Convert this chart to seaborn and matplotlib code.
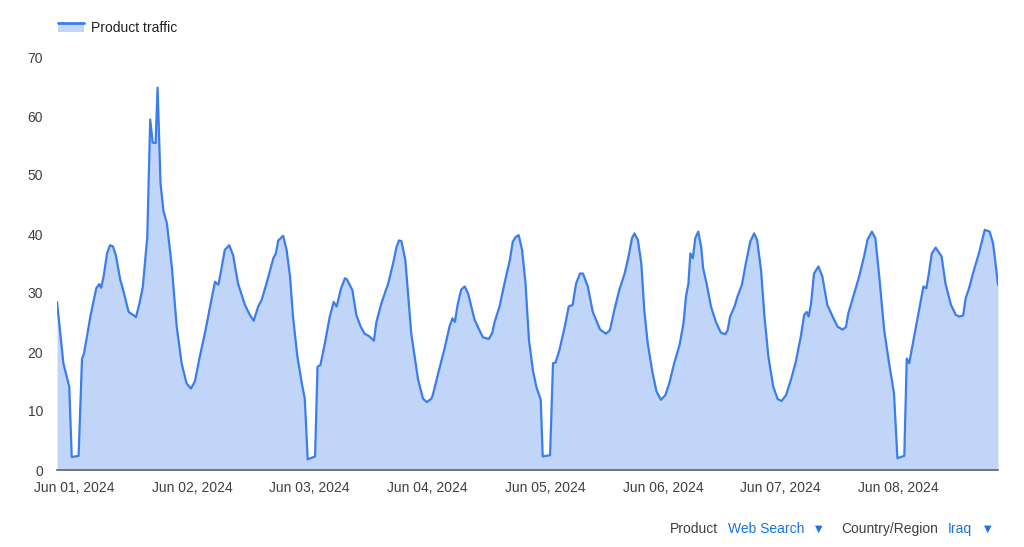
import numpy as np
import pandas as pd
import matplotlib
matplotlib.use('Agg')
import matplotlib.pyplot as plt
import matplotlib.dates as mdates
from matplotlib.patches import Patch, Rectangle
from matplotlib.lines import Line2D
from matplotlib.legend_handler import HandlerBase
import seaborn as sns

# hours since Jun 01 00:00 and traffic values (one list pair per day)
d1_hours = [-3.5, -2.2, -1.0, -0.5, 0.9, 1.6, 2.0, 3.3, 4.5, 5.1, 5.5, 6.0, 6.7, 7.3, 7.9, 8.5, 9.4, 9.9,
            11.1, 12.0, 12.6, 13.3, 14.0, 14.9, 15.5, 16.0, 16.6, 17.0, 17.6, 18.2, 18.9, 19.9, 20.9, 21.9, 22.9, 23.8]
d1_vals = [28.5, 18.1, 14.1, 2.2, 2.4, 18.9, 19.7, 26.0, 30.8, 31.5, 30.9, 32.8, 36.7, 38.1, 37.9, 36.4, 32.2, 30.8,
           26.8, 26.3, 25.9, 28.2, 31.1, 39.5, 59.4, 55.5, 55.4, 64.8, 48.6, 43.9, 41.8, 34.5, 24.3, 18.1, 14.7, 13.8]

d2_hours = [24.6, 25.6, 26.7, 27.7, 28.7, 29.4, 30.1, 30.7, 31.6, 32.4, 33.4, 34.8, 35.8, 36.6,
            37.5, 38.2, 39.2, 40.6, 41.1, 41.6, 42.6, 43.3, 44.0, 44.6, 45.5, 46.4, 47.0, 47.6]
d2_vals = [15.0, 19.2, 23.4, 27.7, 31.9, 31.4, 34.5, 37.3, 38.1, 36.4, 31.6, 28.0, 26.3, 25.3,
           27.7, 28.8, 31.6, 35.9, 36.7, 38.9, 39.7, 37.3, 32.8, 26.0, 19.2, 14.7, 12.1, 1.8]

d3_hours = [49.1, 49.6, 50.2, 51.1, 52.1, 52.9, 53.5, 54.4, 55.2, 55.6, 56.7, 57.5, 58.4, 59.2,
            60.1, 61.1, 61.6, 62.6, 64.0, 65.0, 65.7, 66.2, 66.7, 67.5, 68.7, 70.1, 71.1, 71.9]
d3_vals = [2.3, 17.5, 17.8, 21.5, 26.0, 28.5, 27.7, 30.8, 32.5, 32.3, 30.5, 26.3, 24.3, 23.1,
           22.7, 21.9, 25.1, 28.2, 31.6, 35.0, 37.8, 38.9, 38.8, 35.6, 23.2, 15.3, 12.1, 11.5]

d4_hours = [72.8, 73.1, 74.2, 75.5, 76.5, 77.1, 77.6, 78.2, 78.9, 79.6, 80.3, 81.6, 82.6, 83.3, 84.5,
            85.2, 85.7, 86.7, 87.7, 88.8, 89.4, 90.0, 90.6, 91.3, 92.0, 92.7, 93.5, 94.2, 95.1, 95.5]
d4_vals = [12.1, 12.7, 16.4, 20.6, 24.3, 25.7, 25.1, 28.2, 30.6, 31.1, 29.9, 25.5, 23.7, 22.5, 22.2,
           23.2, 25.1, 27.7, 31.6, 35.6, 38.7, 39.5, 39.8, 37.3, 31.6, 22.0, 16.9, 14.1, 11.9, 2.3]

d5_hours = [97.0, 97.6, 98.1, 98.9, 100.0, 100.8, 101.6, 102.3, 103.1, 103.7, 104.7, 105.7, 106.4, 107.2, 108.4,
            109.2, 110.1, 111.1, 112.2, 113.0, 113.7, 114.2, 114.9, 115.6, 116.2, 116.9, 117.9, 118.7, 119.6]
d5_vals = [2.5, 18.1, 18.2, 20.3, 24.3, 27.7, 28.0, 31.6, 33.3, 33.3, 31.1, 26.8, 25.4, 23.8, 23.1,
           23.7, 27.1, 30.5, 33.3, 36.2, 39.3, 40.1, 39.0, 35.0, 27.1, 21.5, 16.4, 13.3, 11.9]

d6_hours = [120.5, 121.3, 122.3, 123.4, 124.2, 124.7, 125.2, 125.6, 126.1, 126.6, 127.2, 127.8, 128.2, 128.9, 129.8, 130.8,
            131.8, 132.7, 133.2, 133.7, 134.6, 135.2, 136.1, 136.9, 137.8, 138.6, 139.2, 140.0, 140.7, 141.5, 142.5, 143.4]
d6_vals = [12.7, 14.7, 18.1, 21.2, 24.9, 29.4, 31.6, 36.7, 35.9, 39.3, 40.4, 37.8, 34.2, 31.6, 27.7, 25.1,
           23.3, 23.0, 23.7, 26.0, 27.7, 29.4, 31.4, 35.0, 38.7, 40.1, 39.0, 33.9, 26.0, 19.2, 14.1, 12.0]

d7_hours = [144.2, 145.1, 146.1, 147.1, 148.1, 148.8, 149.3, 149.7, 150.2, 150.8, 151.7, 152.5, 153.5, 154.6, 155.6,
            156.6, 157.3, 157.8, 158.6, 160.0, 161.0, 161.7, 162.6, 163.3, 164.1, 165.1, 166.1, 167.1, 167.8]
d7_vals = [11.7, 12.7, 15.3, 18.4, 22.6, 26.3, 26.8, 26.0, 28.2, 33.3, 34.5, 32.8, 28.0, 26.0, 24.3,
           23.8, 24.2, 26.6, 28.8, 32.8, 36.2, 39.0, 40.4, 39.3, 32.8, 23.7, 18.1, 13.0, 2.0]

d8_hours = [169.2, 169.7, 170.2, 171.2, 172.2, 173.1, 173.7, 174.2, 174.8, 175.6, 176.8, 177.6, 178.7,
            179.7, 180.4, 181.2, 181.7, 182.4, 183.4, 184.4, 185.6, 186.6, 187.3, 187.8, 188.3]
d8_vals = [2.4, 18.9, 18.1, 22.6, 27.1, 31.1, 30.8, 33.3, 36.7, 37.7, 36.2, 31.6, 28.0,
           26.3, 26.0, 26.2, 29.1, 30.8, 33.9, 36.7, 40.7, 40.4, 38.4, 35.0, 31.4]

hours = d1_hours + d2_hours + d3_hours + d4_hours + d5_hours + d6_hours + d7_hours + d8_hours
vals = d1_vals + d2_vals + d3_vals + d4_vals + d5_vals + d6_vals + d7_vals + d8_vals

start = pd.Timestamp('2024-06-01 00:00')
df = pd.DataFrame({'time': start + pd.to_timedelta(hours, unit='h'), 'traffic': vals})

sns.set_style('white')
plt.rcParams['font.family'] = ['Liberation Sans', 'DejaVu Sans']

line_c = '#3b7ded'
fill_c = '#c0d5f8'
blue = '#1a73e8'
grey = '#3c4043'


# legend key: light area with the blue line along its top
class AreaHandler(HandlerBase):
    def create_artists(self, legend, orig, xd, yd, w, h, fontsize, trans):
        r = Rectangle((xd, yd), w, h * 0.8, facecolor=fill_c, edgecolor='none', transform=trans)
        l = Line2D([xd, xd + w], [yd + h * 0.8] * 2, color=line_c, lw=2, transform=trans)
        return [r, l]


fig = plt.figure(figsize=(10.24, 5.47), dpi=100)
ax = fig.add_axes([57/1024, 1-470/547, 941/1024, 413/547])

ax.fill_between(df['time'], df['traffic'], 0, color=fill_c, lw=0)
sns.lineplot(data=df, x='time', y='traffic', ax=ax, color=line_c, lw=1.6, legend=False)

ax.set_xlim(df['time'].iloc[0], df['time'].iloc[-1])
ax.set_ylim(0, 70)
ax.set_yticks(range(0, 71, 10))
ax.xaxis.set_major_locator(mdates.DayLocator())
ax.xaxis.set_major_formatter(mdates.DateFormatter('%b %d, %Y'))
ax.tick_params(length=0, labelsize=10, colors=grey)
ax.tick_params(axis='y', pad=10)
ax.tick_params(axis='x', pad=8)
for s in ['top', 'right', 'left']:
    ax.spines[s].set_visible(False)
ax.spines['bottom'].set_color('#5f6368')
ax.spines['bottom'].set_linewidth(1.2)
ax.set_xlabel('')
ax.set_ylabel('')

key = Patch(facecolor=fill_c)
fig.legend(handles=[key], labels=['Product traffic'], loc='center left',
           bbox_to_anchor=(45/1024, 1-28/547), frameon=False, fontsize=10,
           handlelength=1.9, handleheight=0.8, handletextpad=0.5, labelcolor='#202124',
           handler_map={Patch: AreaHandler()})

yb = 1 - 529/547
fig.text(670/1024, yb, 'Product', fontsize=10, color=grey, va='center')
fig.text(728/1024, yb, 'Web Search', fontsize=10, color=blue, va='center')
fig.text(819/1024, yb, '▼', fontsize=7, color=blue, va='center', ha='center', family='DejaVu Sans')
fig.text(841/1024, yb, 'Country/Region', fontsize=10, color=grey, va='center')
fig.text(948/1024, yb, 'Iraq', fontsize=10, color=blue, va='center')
fig.text(988/1024, yb, '▼', fontsize=7, color=blue, va='center', ha='center', family='DejaVu Sans')

fig.savefig('out.png', dpi=100)
